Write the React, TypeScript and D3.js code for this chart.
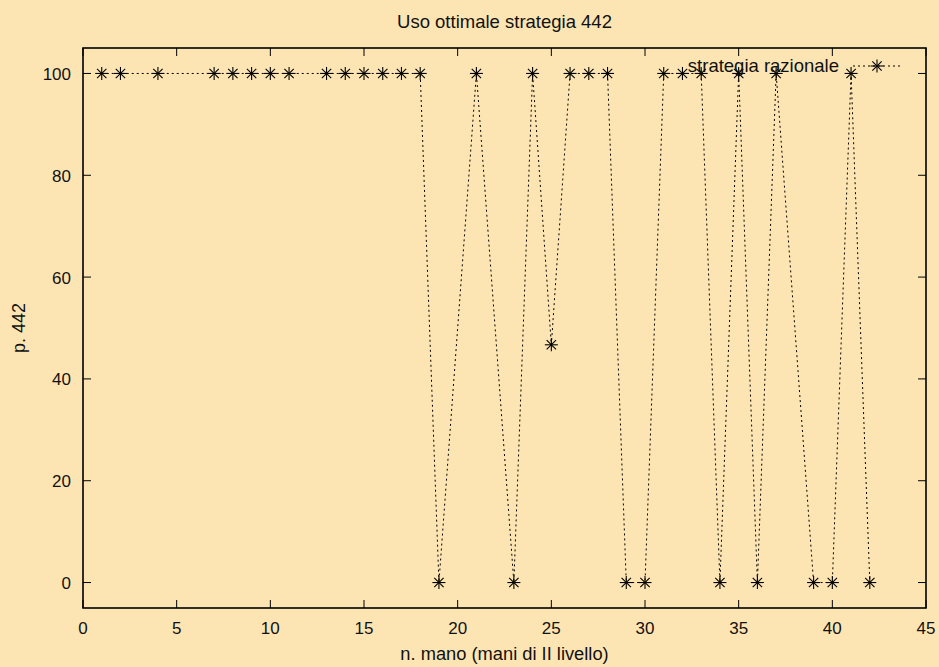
import React from "react";
import * as d3 from "d3";

const xs = [1, 2, 4, 7, 8, 9, 10, 11, 13, 14, 15, 16, 17, 18, 19, 21, 23, 24, 25, 26, 27, 28, 29, 30, 31, 32, 33, 34, 35, 36, 37, 39, 40, 41, 42];
const ys = [100, 100, 100, 100, 100, 100, 100, 100, 100, 100, 100, 100, 100, 100, 0, 100, 0, 100, 46.7, 100, 100, 100, 0, 0, 100, 100, 100, 0, 100, 0, 100, 0, 0, 100, 0];
const xTicks = [0, 5, 10, 15, 20, 25, 30, 35, 40, 45];
const yTicks = [0, 20, 40, 60, 80, 100];
const title = "Uso ottimale strategia 442";
const xLabel = "n. mano (mani di II livello)";
const yLabel = "p. 442";
const legendLabel = "strategia razionale";

const W = 939, H = 667;
const L = 83, R = 926, T = 48, B = 608;
const BG = "#fde5b3";
const FONT = "'Liberation Sans', Arial, Helvetica, sans-serif";

function Star({ x, y, s = 6.5 }: { x: number; y: number; s?: number }) {
  const d = s * 0.72;
  return (
    <g stroke="#000" strokeWidth={1.1}>
      <line x1={x - s} y1={y} x2={x + s} y2={y} />
      <line x1={x} y1={y - s} x2={x} y2={y + s} />
      <line x1={x - d} y1={y - d} x2={x + d} y2={y + d} />
      <line x1={x - d} y1={y + d} x2={x + d} y2={y - d} />
    </g>
  );
}

export default function App() {
  const x = d3.scaleLinear().domain([0, 45]).range([L, R]);
  const y = d3.scaleLinear().domain([-5, 105]).range([B, T]);
  const pts = xs.map((v, i) => [v, ys[i]] as [number, number]);
  const line = d3.line<[number, number]>().x(d => x(d[0])).y(d => y(d[1]));
  const tl = 8;
  const legY = 66;
  return (
    <svg width={W} height={H} style={{ position: "absolute", left: 0, top: 0 }} fontFamily={FONT} fill="#111">
      <rect x={0} y={0} width={W} height={H} fill={BG} />
      <text x={(L + R) / 2} y={27.5} textAnchor="middle" fontSize={18.5}>{title}</text>
      {yTicks.map(t => (
        <g key={"y" + t}>
          <line x1={L} x2={L + tl} y1={y(t)} y2={y(t)} stroke="#000" />
          <line x1={R} x2={R - tl} y1={y(t)} y2={y(t)} stroke="#000" />
          <text x={71} y={y(t)} dy="0.38em" textAnchor="end" fontSize={17}>{t}</text>
        </g>
      ))}
      {xTicks.map(t => (
        <g key={"x" + t}>
          <line x1={x(t)} x2={x(t)} y1={B} y2={B - tl} stroke="#000" />
          <line x1={x(t)} x2={x(t)} y1={T} y2={T + tl} stroke="#000" />
          <text x={x(t)} y={633.5} textAnchor="middle" fontSize={17}>{t}</text>
        </g>
      ))}
      <path d={line(pts) || ""} fill="none" stroke="#000" strokeWidth={1} strokeDasharray="2,3" />
      {pts.map((p, i) => <Star key={i} x={x(p[0])} y={y(p[1])} />)}
      <rect x={L} y={T} width={R - L} height={B - T} fill="none" stroke="#000" strokeWidth={1.6} />
      <text x={839} y={72} textAnchor="end" fontSize={18.5}>{legendLabel}</text>
      <line x1={853} x2={900} y1={legY} y2={legY} stroke="#000" strokeDasharray="2,3" />
      <Star x={877} y={legY} />
      <text x={(L + R) / 2} y={660} textAnchor="middle" fontSize={18.3}>{xLabel}</text>
      <text transform={`translate(25, ${(T + B) / 2}) rotate(-90)`} textAnchor="middle" fontSize={18}>{yLabel}</text>
    </svg>
  );
}
